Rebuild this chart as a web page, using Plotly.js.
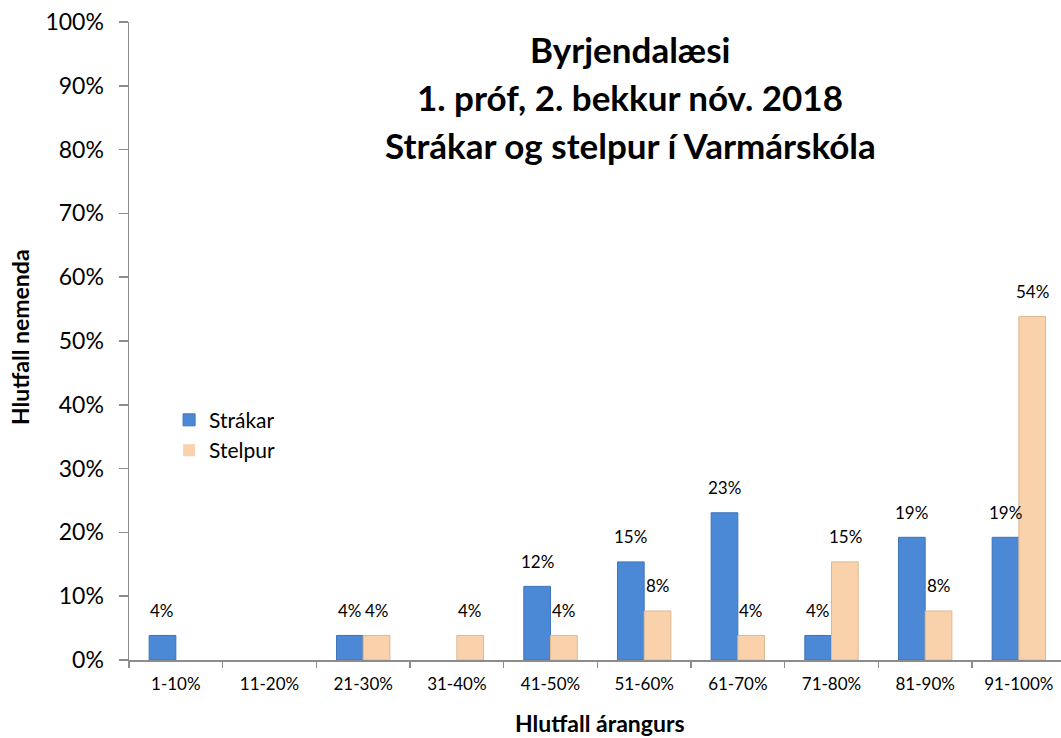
<!DOCTYPE html>
<html>
<head>
<meta charset="utf-8">
<script src="https://cdn.plot.ly/plotly-3.0.1.min.js"></script>
<style>html,body{margin:0;padding:0;background:#fff;}#chart{width:1061px;height:738px;}</style>
</head>
<body>
<div id="chart"></div>
<script>
const categories = ["1-10%","11-20%","21-30%","31-40%","41-50%","51-60%","61-70%","71-80%","81-90%","91-100%"];
const strakar = [0.0385, 0, 0.0385, 0, 0.1154, 0.1538, 0.2308, 0.0385, 0.1923, 0.1923];
const stelpur = [0, 0, 0.0385, 0.0385, 0.0385, 0.0769, 0.0385, 0.1538, 0.0769, 0.5385];
const seriesNames = ["Strákar", "Stelpur"];
const titleLines = ["Byrjendalæsi", "1. próf, 2. bekkur nóv. 2018", "Strákar og stelpur í Varmárskóla"];
const yTitle = "Hlutfall nemenda";
const xTitle = "Hlutfall árangurs";

const FONT = "Lato, 'Open Sans', sans-serif";
const lbl = v => Math.round(v * 100) + "%";

const traces = [
  {type: "bar", name: seriesNames[0], x: categories, y: strakar, hoverinfo: "none",
   marker: {color: "#4b88d6", line: {color: "#3f74b8", width: strakar.map(v => v > 0 ? 1 : 0)}}},
  {type: "bar", name: seriesNames[1], x: categories, y: stelpur, hoverinfo: "none",
   marker: {color: "#f9d2ab", line: {color: "#dcb894", width: stelpur.map(v => v > 0 ? 1 : 0)}}}
];

// value labels above bars (placed via the axes' own scales)
const barLabels = [];
[strakar, stelpur].forEach((vals, s) => {
  vals.forEach((v, i) => {
    if (v > 0) barLabels.push({xref: "x", yref: "y", x: categories[i], y: v,
      text: lbl(v), showarrow: false, xshift: s === 0 ? -13.5 : 13.5, yshift: 25,
      xanchor: "center", yanchor: "middle", font: {size: 17, family: FONT, color: "#000"}});
  });
});

const tx = (630 - 129) / 932;
const layout = {
  width: 1061, height: 738,
  margin: {l: 129, r: 0, t: 22, b: 78, pad: 0},
  paper_bgcolor: "#fff", plot_bgcolor: "#fff",
  font: {family: FONT, size: 17, color: "#000"},
  barmode: "group", bargap: 0.43, bargroupgap: 0,
  showlegend: true,
  legend: {x: 0.043, y: 0.408, xanchor: "left", yanchor: "top",
           font: {size: 21, family: FONT}, bgcolor: "rgba(0,0,0,0)",
           itemwidth: 30, tracegroupgap: 0},
  xaxis: {type: "category", range: [-0.5, 9.45], showgrid: false, zeroline: false,
          showline: true, linecolor: "#8c8c8c", linewidth: 1.5,
          ticks: "outside", tickson: "boundaries", ticklen: 6, tickcolor: "#8c8c8c", tickwidth: 1.5,
          tickfont: {size: 17, family: FONT}, ticklabelstandoff: 8, fixedrange: true},
  yaxis: {range: [0, 1], dtick: 0.1, tickformat: ".0%", showgrid: false, zeroline: false,
          showline: true, linecolor: "#8c8c8c", linewidth: 1.5,
          ticks: "outside", ticklen: 9, tickcolor: "#8c8c8c", tickwidth: 1.5,
          tickfont: {size: 23, family: FONT}, ticklabelstandoff: 10, fixedrange: true},
  annotations: [
    {xref: "paper", yref: "paper", x: tx, y: 1 - (49 - 22) / 638,
     text: "<b>" + titleLines[0] + "</b>", showarrow: false, font: {size: 35, family: FONT},
     xanchor: "center", yanchor: "middle"},
    {xref: "paper", yref: "paper", x: tx, y: 1 - (97 - 22) / 638,
     text: "<b>" + titleLines[1] + "</b>", showarrow: false, font: {size: 35, family: FONT},
     xanchor: "center", yanchor: "middle"},
    {xref: "paper", yref: "paper", x: tx, y: 1 - (145 - 22) / 638,
     text: "<b>" + titleLines[2] + "</b>", showarrow: false, font: {size: 35, family: FONT},
     xanchor: "center", yanchor: "middle"},
    {xref: "paper", yref: "paper", x: (600 - 129) / 932, y: -(723 - 660) / 638,
     text: "<b>" + xTitle + "</b>", showarrow: false, font: {size: 23, family: FONT},
     xanchor: "center", yanchor: "middle"},
    {xref: "paper", yref: "paper", x: -(129 - 20) / 932, y: (660 - 337) / 638,
     text: "<b>" + yTitle + "</b>", showarrow: false, textangle: -90, font: {size: 23, family: FONT},
     xanchor: "center", yanchor: "middle"}
  ].concat(barLabels)
};

Plotly.newPlot("chart", traces, layout, {displayModeBar: false, staticPlot: true});
</script>
</body>
</html>
